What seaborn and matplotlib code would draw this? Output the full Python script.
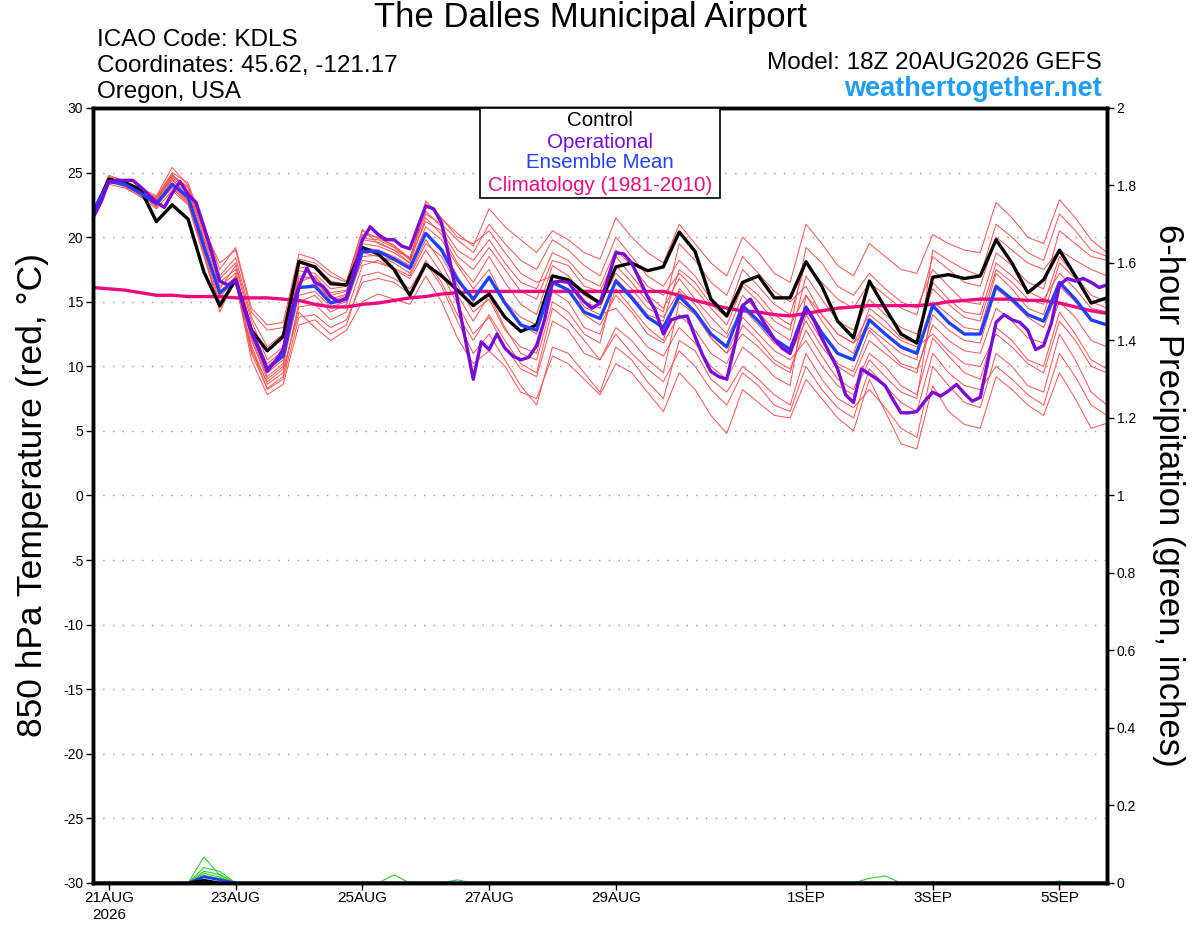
import numpy as np
import pandas as pd
import matplotlib
matplotlib.use('Agg')
import matplotlib.pyplot as plt
import seaborn as sns
from matplotlib.patches import Rectangle

# forecast hours counted from 21AUG2026 00Z (run is 18Z 20AUG, 6-hourly, op 3-hourly)
hours = np.arange(-6, 379, 6)
hours_op = np.arange(-6, 379, 3)

tick_hours = [0, 48, 96, 144, 192, 264, 312, 360]
tick_labels = ['21AUG\n2026', '23AUG', '25AUG', '27AUG', '29AUG', '1SEP', '3SEP', '5SEP']

control = [21.7, 24.5, 24.2, 23.7, 21.2, 22.5, 21.4, 17.3, 14.7, 16.7, 12.8, 11.2, 12.3,
           18.1, 17.7, 16.4, 16.3, 19.2, 18.7, 17.5, 15.5, 17.9, 17.0, 15.9, 14.7, 15.6,
           13.8, 12.7, 13.2, 17.0, 16.7, 15.7, 14.9, 17.7, 18.0, 17.4, 17.7, 20.4, 18.9,
           15.2, 13.9, 16.5, 17.0, 15.3, 15.3, 18.1, 16.2, 13.5, 12.2, 16.6, 14.5, 12.5,
           11.8, 16.9, 17.1, 16.8, 17.0, 19.8, 18.0, 15.7, 16.7, 19.0, 17.0, 14.9, 15.3]

ens_mean = [22.0, 24.3, 24.1, 23.4, 22.6, 24.1, 23.1, 19.3, 15.7, 16.7, 12.6, 9.8, 10.8,
            16.1, 16.2, 14.9, 15.2, 18.9, 18.9, 18.3, 17.6, 20.3, 19.0, 16.7, 15.2, 16.9,
            14.9, 13.2, 12.8, 16.5, 15.9, 14.2, 13.7, 16.6, 15.3, 13.8, 13.0, 15.4, 14.2,
            12.5, 11.5, 14.7, 13.5, 12.1, 11.3, 14.6, 12.6, 11.0, 10.5, 13.6, 12.5, 11.5,
            11.0, 14.7, 13.4, 12.5, 12.5, 16.2, 15.2, 14.0, 13.5, 16.5, 15.2, 13.6, 13.2]

operational = [21.5, 22.7, 24.3, 24.4, 24.4, 24.4, 23.9, 23.3, 22.7, 22.3, 23.4, 24.3, 23.3,
               22.7, 20.8, 18.8, 16.6, 16.3, 16.7, 14.7, 12.8, 11.3, 9.6, 10.4, 11.3, 14.2,
               16.2, 17.6, 16.5, 16.2, 15.4, 15.0, 15.3, 17.5, 19.8, 20.8, 20.2, 19.8, 19.8,
               19.3, 19.1, 20.8, 22.4, 22.2, 21.1, 18.3, 15.2, 12.1, 9.0, 11.9, 11.3, 12.5,
               11.4, 10.8, 10.5, 10.7, 11.6, 13.6, 16.5, 16.6, 16.5, 15.7, 15.0, 14.5, 14.9,
               16.8, 18.8, 18.7, 18.0, 16.7, 15.4, 14.3, 12.5, 13.6, 13.8, 13.9, 12.3, 10.8,
               9.6, 9.2, 9.0, 11.6, 14.7, 15.2, 14.1, 13.1, 12.1, 11.4, 11.0, 12.8, 14.5,
               13.6, 12.2, 11.0, 9.8, 7.8, 7.2, 9.8, 9.4, 9.0, 8.5, 7.4, 6.4, 6.4, 6.5, 7.3,
               8.0, 7.7, 8.1, 8.6, 7.9, 7.3, 7.6, 10.5, 13.4, 14.0, 13.6, 13.4, 12.8, 11.3,
               11.6, 13.4, 16.3, 16.8, 16.6, 16.8, 16.5, 16.1, 16.3]

climatology = [16.1, 16.0, 15.9, 15.7, 15.5, 15.5, 15.4, 15.4, 15.4, 15.3, 15.3, 15.3, 15.2,
               15.1, 14.8, 14.6, 14.6, 14.8, 14.9, 15.1, 15.3, 15.4, 15.6, 15.7, 15.8, 15.8,
               15.8, 15.8, 15.8, 15.8, 15.8, 15.8, 15.8, 15.8, 15.8, 15.8, 15.8, 15.5, 15.1,
               14.8, 14.5, 14.3, 14.2, 14.0, 13.9, 14.1, 14.3, 14.5, 14.6, 14.7, 14.7, 14.7,
               14.7, 14.8, 15.0, 15.1, 15.2, 15.2, 15.2, 15.1, 15.1, 14.9, 14.6, 14.3, 14.1]

# ensemble members (850 hPa temperature)
members = {
    'p01': [21.9, 24.8, 24.3, 23.8, 23.2, 25.4, 24.0, 20.5, 16.5, 17.5, 12.0, 9.0, 10.0, 16.5, 17.0, 15.5, 15.8,
            19.5, 19.3, 18.8, 18.0, 21.5, 20.2, 18.0, 16.5, 18.5, 16.5, 14.8, 14.0, 17.8, 17.0, 15.5, 14.8,
            17.2, 16.0, 14.5, 13.8, 15.8, 14.2, 12.2, 11.0, 12.5, 11.5, 10.2, 9.5, 14.0, 12.0, 10.2, 9.6,
            12.8, 11.5, 10.2, 9.8, 13.2, 12.0, 11.2, 11.0, 14.5, 13.5, 12.2, 11.8, 15.0, 13.8, 12.0, 11.5],
    'p02': [22.1, 24.6, 24.0, 23.3, 22.5, 24.0, 22.8, 19.0, 15.0, 16.5, 11.0, 8.3, 9.2, 15.0, 15.5, 14.2, 14.8,
            18.5, 18.6, 18.0, 17.2, 19.8, 18.0, 15.5, 13.5, 15.5, 13.0, 11.0, 10.5, 15.0, 14.2, 12.5, 11.8,
            16.8, 15.5, 14.0, 13.5, 17.5, 16.5, 14.8, 13.8, 16.5, 15.5, 14.0, 13.2, 15.5, 13.5, 11.8, 11.0,
            14.5, 13.5, 12.2, 11.8, 16.5, 15.2, 14.2, 14.0, 18.0, 17.0, 15.8, 15.2, 17.2, 16.0, 14.5, 14.2],
    'p03': [22.0, 24.2, 24.2, 23.6, 23.0, 24.6, 23.6, 20.0, 16.8, 18.0, 13.5, 10.5, 11.5, 17.0, 16.8, 15.0, 15.5,
            19.8, 19.6, 19.0, 18.4, 21.8, 21.0, 19.8, 18.8, 21.0, 19.5, 18.2, 17.5, 19.8, 19.0, 17.8, 17.0,
            20.0, 18.5, 17.0, 16.2, 18.2, 17.0, 15.2, 14.0, 17.5, 16.2, 14.8, 14.0, 18.0, 16.5, 15.2, 14.5,
            16.5, 15.5, 14.5, 14.0, 18.5, 17.5, 16.5, 16.2, 20.0, 19.0, 18.0, 17.5, 19.0, 18.2, 17.5, 17.0],
    'p04': [21.8, 24.5, 23.9, 23.1, 22.2, 23.6, 22.5, 18.5, 14.5, 16.6, 10.5, 7.8, 8.6, 13.2, 13.6, 12.5, 13.2,
            17.0, 17.3, 16.8, 16.0, 18.0, 16.2, 13.5, 11.0, 12.5, 10.5, 8.5, 7.0, 11.5, 11.0, 9.5, 8.0,
            11.5, 10.5, 8.8, 7.5, 12.0, 11.2, 9.0, 8.0, 10.0, 9.0, 7.8, 7.0, 11.0, 9.0, 7.5, 6.8,
            8.2, 6.8, 5.2, 4.5, 10.0, 8.5, 7.2, 6.8, 11.0, 10.0, 8.5, 8.0, 12.5, 10.5, 8.0, 7.0],
    'p05': [22.2, 24.3, 24.1, 23.5, 22.9, 24.8, 23.9, 21.0, 17.5, 19.2, 14.5, 13.2, 13.4, 18.7, 18.3, 17.3, 16.6,
            20.5, 19.9, 19.4, 18.2, 22.6, 21.4, 20.3, 19.3, 22.2, 20.8, 19.8, 18.8, 20.5, 19.8, 18.8, 18.3,
            21.5, 20.0, 18.8, 18.0, 21.0, 19.5, 18.0, 17.0, 20.0, 18.8, 17.2, 16.5, 21.0, 19.5, 17.8, 17.0,
            19.5, 18.5, 17.5, 17.2, 20.2, 19.5, 19.0, 18.8, 22.7, 21.5, 20.0, 19.5, 22.9, 21.5, 19.8, 18.8],
    'p06': [22.0, 24.7, 24.4, 23.7, 22.6, 24.2, 23.0, 19.2, 15.5, 17.0, 12.5, 9.5, 10.5, 16.0, 16.4, 15.2, 15.6,
            18.8, 18.5, 18.2, 17.5, 20.2, 19.2, 17.0, 15.0, 16.8, 15.0, 13.2, 12.5, 16.5, 16.0, 14.0, 13.2,
            15.5, 14.2, 12.5, 11.8, 14.0, 12.8, 11.0, 10.2, 13.2, 12.0, 10.5, 9.8, 12.8, 10.8, 9.0, 8.2,
            11.0, 10.0, 8.5, 7.8, 12.2, 10.8, 9.5, 9.0, 13.0, 12.0, 10.5, 10.0, 14.2, 12.5, 10.5, 9.8],
    'p07': [21.9, 24.1, 23.8, 23.2, 22.4, 23.9, 22.7, 18.8, 14.2, 16.8, 11.2, 8.8, 9.8, 14.2, 13.0, 12.0, 12.8,
            15.0, 15.6, 15.2, 14.8, 17.0, 15.0, 12.2, 10.2, 11.2, 10.0, 8.0, 7.5, 10.8, 10.2, 9.0, 7.8,
            10.2, 9.5, 8.0, 6.5, 9.5, 8.2, 6.2, 4.8, 8.2, 7.2, 6.2, 6.0, 9.0, 7.5, 6.0, 5.0,
            9.0, 6.5, 4.0, 3.6, 8.5, 6.5, 5.5, 5.2, 9.2, 8.2, 7.0, 6.2, 9.5, 7.5, 5.2, 5.6],
    'p08': [22.1, 24.6, 24.2, 23.6, 23.1, 25.0, 24.2, 20.8, 16.0, 17.8, 13.0, 10.0, 11.0, 17.4, 17.2, 16.0, 16.2,
            19.9, 19.8, 19.2, 18.3, 21.2, 20.5, 18.5, 17.5, 19.2, 17.5, 15.8, 15.2, 18.2, 17.8, 16.2, 15.8,
            18.5, 17.0, 15.5, 14.5, 16.8, 15.2, 13.8, 12.5, 15.5, 14.2, 12.8, 12.0, 17.0, 15.2, 13.5, 12.8,
            15.2, 14.0, 13.0, 12.5, 16.0, 14.8, 13.8, 13.5, 17.5, 16.5, 15.2, 14.8, 18.5, 17.0, 15.5, 15.0],
    'p09': [22.0, 24.4, 24.0, 23.4, 22.7, 24.4, 23.4, 19.6, 15.3, 16.9, 12.2, 9.2, 10.2, 15.5, 15.8, 14.6, 15.0,
            18.2, 18.0, 17.6, 17.0, 19.5, 18.5, 16.3, 14.2, 15.2, 12.8, 11.5, 11.0, 15.8, 15.0, 13.0, 12.5,
            16.0, 14.5, 13.0, 12.0, 16.0, 14.8, 13.0, 12.2, 14.5, 13.2, 11.8, 11.0, 13.5, 11.5, 10.0, 9.2,
            12.0, 11.0, 10.0, 9.5, 14.0, 12.8, 12.0, 11.8, 16.0, 15.0, 13.8, 13.0, 16.2, 15.0, 13.5, 13.2],
    'p10': [21.8, 24.2, 24.1, 23.5, 22.9, 24.5, 23.1, 19.9, 16.2, 17.2, 12.8, 10.2, 11.2, 16.8, 16.9, 15.7, 15.9,
            19.2, 19.0, 18.5, 17.8, 20.8, 19.8, 17.8, 16.0, 17.5, 15.0, 13.8, 13.2, 17.0, 16.5, 14.6, 14.0,
            14.5, 13.0, 11.5, 10.8, 13.0, 11.8, 10.0, 9.0, 11.5, 10.5, 9.2, 8.5, 15.5, 14.0, 12.5, 11.8,
            14.0, 13.0, 12.0, 11.5, 12.5, 11.2, 10.2, 10.0, 12.5, 11.5, 10.2, 9.5, 13.5, 12.0, 10.0, 9.5],
    'p11': [22.1, 24.5, 24.3, 23.6, 22.5, 23.8, 22.6, 19.1, 15.7, 16.7, 11.6, 8.6, 9.5, 14.6, 14.8, 13.6, 14.2,
            17.8, 18.2, 17.5, 16.8, 19.0, 17.2, 14.8, 12.5, 13.8, 11.5, 9.8, 9.2, 13.5, 12.8, 11.0, 10.5,
            13.0, 12.0, 10.5, 9.5, 15.0, 14.0, 12.2, 11.0, 13.8, 12.5, 11.2, 10.5, 12.0, 10.0, 8.5, 7.8,
            10.5, 9.2, 8.0, 7.5, 15.0, 14.0, 13.0, 12.8, 17.2, 16.0, 14.5, 14.0, 18.0, 16.8, 15.0, 14.5],
    'p12': [22.0, 24.3, 23.9, 23.3, 22.8, 24.7, 23.8, 20.3, 17.0, 18.4, 13.8, 11.5, 12.5, 17.6, 17.8, 16.6, 16.3,
            20.2, 20.0, 19.3, 18.4, 22.0, 20.8, 19.0, 18.2, 19.8, 18.0, 16.5, 16.0, 18.8, 18.2, 16.8, 16.2,
            19.0, 17.8, 16.2, 15.5, 17.2, 16.0, 14.5, 13.2, 16.2, 15.0, 13.5, 12.8, 19.2, 18.0, 16.2, 15.5,
            17.2, 16.0, 15.0, 14.5, 17.5, 16.2, 15.0, 14.8, 18.8, 17.8, 16.5, 16.0, 20.5, 19.5, 18.5, 18.2],
    'p13': [21.9, 24.6, 24.2, 23.4, 22.3, 24.1, 22.9, 18.7, 14.8, 16.6, 11.4, 8.2, 9.0, 13.8, 14.0, 13.0, 13.6,
            16.5, 16.8, 16.5, 15.6, 18.2, 16.5, 14.0, 12.0, 14.0, 12.0, 10.2, 9.5, 14.5, 13.5, 12.0, 10.5,
            12.5, 11.0, 9.8, 8.8, 11.2, 10.0, 8.2, 7.0, 9.5, 8.5, 7.0, 6.5, 10.0, 8.2, 6.8, 6.0,
            9.8, 8.5, 7.2, 6.5, 11.0, 9.5, 8.5, 8.2, 10.0, 9.0, 7.8, 7.0, 11.0, 9.2, 7.0, 6.2],
    'p14': [22.2, 24.4, 24.0, 23.7, 23.0, 24.9, 23.5, 20.6, 18.0, 19.0, 14.2, 12.8, 13.0, 18.3, 18.0, 17.0, 16.5,
            20.6, 19.5, 19.0, 18.0, 22.8, 21.5, 20.0, 19.5, 20.5, 18.8, 17.2, 16.5, 17.0, 16.5, 15.0, 14.5,
            17.8, 16.5, 15.0, 14.2, 19.5, 18.2, 16.5, 15.5, 18.5, 17.2, 15.8, 15.0, 16.2, 14.0, 12.5, 11.8,
            13.0, 12.0, 11.0, 10.5, 19.0, 18.2, 17.5, 17.0, 21.0, 20.0, 18.8, 18.2, 21.8, 20.5, 19.0, 18.5],
}

# 6-hour precipitation (inches), only the non-zero steps: {step index: value}
precip_members = [
    {7: 0.067, 8: 0.020},
    {7: 0.040, 8: 0.030},
    {7: 0.030, 8: 0.022},
    {7: 0.025, 8: 0.015},
    {7: 0.020, 8: 0.010, 19: 0.021},
    {7: 0.018, 8: 0.012, 23: 0.008},
    {49: 0.012, 50: 0.018},
    {53: 0.003, 61: 0.005},
]
precip_mean = {7: 0.016, 8: 0.008}
precip_control = {7: 0.007}

sns.set_style('white')
plt.rcParams['font.family'] = ['Liberation Sans', 'DejaVu Sans']
plt.rcParams['axes.unicode_minus'] = False
for key in ['text.color', 'axes.labelcolor', 'xtick.color', 'ytick.color', 'axes.edgecolor']:
    plt.rcParams[key] = 'black'

fig = plt.figure(figsize=(12, 9.27), dpi=100)
ax = fig.add_axes([0.0775, 0.0475, 0.845, 0.836])

# temperature spaghetti
df_m = pd.DataFrame([(k, h, t) for k, vals in members.items() for h, t in zip(hours, vals)],
                    columns=['member', 'hour', 'temp'])
sns.lineplot(data=df_m, x='hour', y='temp', units='member', estimator=None,
             color='#ff5050', lw=0.7, ax=ax, legend=False)
sns.lineplot(x=hours, y=climatology, color='#ee0a7e', lw=2.4, ax=ax)
sns.lineplot(x=hours, y=control, color='black', lw=2.4, ax=ax)
sns.lineplot(x=hours, y=ens_mean, color='#2040ff', lw=2.4, ax=ax)
sns.lineplot(x=hours_op, y=operational, color='#7a0ad8', lw=2.4, ax=ax)

ax.set_xlim(-6, 378)
ax.set_ylim(-30, 30)
ax.set_yticks(range(-30, 31, 5))
ax.yaxis.grid(True, ls=(0, (1, 6)), color='#999999', lw=1.0)
ax.xaxis.grid(False)
ax.set_xticks(tick_hours)
ax.set_xticklabels(tick_labels, fontsize=11)
ax.tick_params(axis='y', labelsize=10, length=5, width=1, direction='out', left=True, pad=2)
ax.tick_params(axis='x', length=5, width=1, direction='out', bottom=True, pad=1)
ax.set_xlabel('')
ax.set_ylabel('')
for s in ax.spines.values():
    s.set_linewidth(2.5)
    s.set_color('black')

# precipitation on the right axis
ax2 = ax.twinx()
def to_series(d):
    v = np.zeros(len(hours))
    for k, val in d.items():
        v[k] = val
    return v
for d in precip_members:
    sns.lineplot(x=hours, y=to_series(d), color='#30d030', lw=0.8, ax=ax2)
sns.lineplot(x=hours, y=to_series(precip_mean), color='#2040ff', lw=2.0, ax=ax2)
sns.lineplot(x=hours, y=to_series(precip_control), color='black', lw=2.0, ax=ax2)
ax2.set_ylim(0, 2)
ax2.set_yticks(np.arange(0, 2.01, 0.2))
ax2.set_yticklabels(['0', '0.2', '0.4', '0.6', '0.8', '1', '1.2', '1.4', '1.6', '1.8', '2'])
ax2.tick_params(axis='y', labelsize=10, length=5, width=1, direction='out', right=True, pad=2)
ax2.grid(False)
for s in ax2.spines.values():
    s.set_linewidth(2.5)
    s.set_color('black')

# axis titles
fig.text(0.027, 0.466, '850 hPa Temperature (red, °C)', rotation=90, fontsize=25.5,
         ha='center', va='center')
fig.text(0.974, 0.466, '6-hour Precipitation (green, inches)', rotation=270, fontsize=25,
         ha='center', va='center')

# header
fig.text(0.492, 0.981, 'The Dalles Municipal Airport', fontsize=25, ha='center', va='center')
fig.text(0.081, 0.957, 'ICAO Code: KDLS', fontsize=17.5, va='center')
fig.text(0.081, 0.929, 'Coordinates: 45.62, -121.17', fontsize=17.5, va='center')
fig.text(0.081, 0.901, 'Oregon, USA', fontsize=17.5, va='center')
fig.text(0.918, 0.932, 'Model: 18Z 20AUG2026 GEFS', fontsize=17.5, ha='right', va='center')
fig.text(0.918, 0.904, 'weathertogether.net', fontsize=19.5, fontweight='bold',
         color='#1e9ef5', ha='right', va='center')

# legend box
fig.add_artist(Rectangle((0.4, 0.7864), 0.2, 0.0971, transform=fig.transFigure,
                         facecolor='white', edgecolor='black', lw=1.2, zorder=5))
for y, txt, c in [(0.8695, 'Control', 'black'), (0.8468, 'Operational', '#7a0ad8'),
                  (0.8242, 'Ensemble Mean', '#2040ff'),
                  (0.8004, 'Climatology (1981-2010)', '#ee0a7e')]:
    fig.text(0.5, y, txt, color=c, fontsize=14.8, ha='center', va='center', zorder=6)

plt.savefig('out.png', dpi=100)
plt.close()
